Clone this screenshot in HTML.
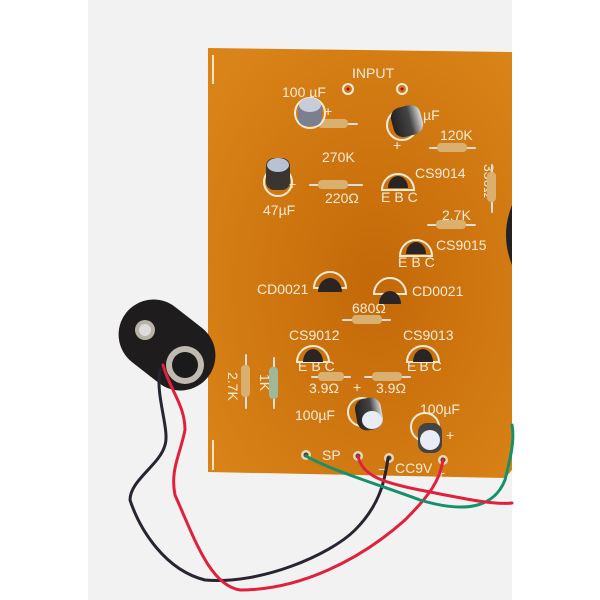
<!DOCTYPE html>
<html><head><meta charset="utf-8"><style>
html,body{margin:0;padding:0;background:#fff;}
svg{display:block}
text{font-family:"Liberation Sans",sans-serif;fill:#f6ecd8;font-size:14px;}
</style></head><body>
<svg width="600" height="600" viewBox="0 0 600 600" xmlns="http://www.w3.org/2000/svg">
<defs>
<radialGradient id="bd" cx="0.55" cy="0.55" r="0.7">
<stop offset="0" stop-color="#c46808"/><stop offset="1" stop-color="#d98418"/>
</radialGradient>
<linearGradient id="cap" x1="0" x2="1"><stop offset="0" stop-color="#222"/><stop offset="0.6" stop-color="#444"/><stop offset="1" stop-color="#ddd"/></linearGradient>
</defs>
<rect x="0" y="0" width="600" height="600" fill="#fff"/>
<rect x="88" y="0" width="424" height="600" fill="#f2f2f2"/>
<polygon points="208,48 512,52 512,470 505,478 208,472" fill="url(#bd)"/>
<line x1="213" y1="55" x2="213" y2="84" stroke="#f3e3c0" stroke-width="2"/>
<line x1="213" y1="440" x2="213" y2="470" stroke="#f3e3c0" stroke-width="2"/>
<path d="M512,205 Q500,235 512,265 Z" fill="#222"/>
<text x="352" y="78">INPUT</text>
<text x="282" y="97">100 µF</text>
<circle cx="348" cy="89" r="5" fill="none" stroke="#f6ecd8" stroke-width="2"/><circle cx="348" cy="89" r="1.5" fill="#a02"/>
<circle cx="402" cy="89" r="5" fill="none" stroke="#f6ecd8" stroke-width="2"/><circle cx="402" cy="89" r="1.5" fill="#a02"/>
<text x="324" y="116" font-size="18">+</text>
<text x="423" y="120">µF</text>
<text x="393" y="150" font-size="18">+</text>
<text x="322" y="162">270K</text>
<text x="440" y="140">120K</text>
<text x="415" y="178">CS9014</text>
<text x="381" y="202" letter-spacing="4">EBC</text>
<text x="325" y="203">220Ω</text>
<text x="288" y="189" font-size="18">+</text>
<text x="263" y="215">47µF</text>
<text x="484" y="164" transform="rotate(90 484 164)">330Ω</text>
<text x="442" y="220">2.7K</text>
<text x="436" y="250">CS9015</text>
<text x="398" y="267" letter-spacing="4">EBC</text>
<text x="257" y="294">CD0021</text>
<text x="412" y="296">CD0021</text>
<text x="352" y="313">680Ω</text>
<text x="289" y="340">CS9012</text>
<text x="403" y="340">CS9013</text>
<text x="298" y="371" letter-spacing="4">EBC</text>
<text x="407" y="371" letter-spacing="3">EBC</text>
<text x="309" y="393">3.9Ω</text>
<text x="376" y="393">3.9Ω</text>
<text x="353" y="392" font-size="18">+</text>
<text x="228" y="372" transform="rotate(90 228 372)">2.7K</text>
<text x="260" y="374" transform="rotate(90 260 374)">1K</text>
<text x="295" y="420">100µF</text>
<text x="420" y="414">100µF</text>
<text x="446" y="440" font-size="16">+</text>
<text x="322" y="460">SP</text>
<text x="395" y="473">CC9V</text>
<text x="378" y="474" font-size="16">−</text>
<text x="437" y="478" font-size="16">+</text>
<circle cx="306" cy="455" r="5" fill="#e8d8b8"/><circle cx="306" cy="455" r="2.5" fill="#444"/>
<circle cx="358" cy="456" r="5" fill="#e8d8b8"/><circle cx="358" cy="456" r="2.5" fill="#444"/>
<circle cx="389" cy="458" r="5" fill="#e8d8b8"/><circle cx="389" cy="458" r="2.5" fill="#444"/>
<circle cx="443" cy="460" r="5" fill="#e8d8b8"/><circle cx="443" cy="460" r="2.5" fill="#444"/>
<g stroke-linecap="round">
<line x1="310" y1="124" x2="357" y2="124" stroke="#ddd" stroke-width="2"/><rect x="318" y="119" width="30" height="9" rx="4" fill="#d9b070"/>
<line x1="430" y1="148" x2="475" y2="148" stroke="#ddd" stroke-width="2"/><rect x="437" y="143" width="30" height="9" rx="4" fill="#d9b070"/>
<line x1="310" y1="185" x2="362" y2="185" stroke="#ddd" stroke-width="2"/><rect x="318" y="180" width="30" height="9" rx="4" fill="#d9b070"/>
<line x1="492" y1="165" x2="492" y2="212" stroke="#ddd" stroke-width="2"/><rect x="487" y="172" width="9" height="30" rx="4" fill="#d9b070"/>
<line x1="428" y1="225" x2="475" y2="225" stroke="#ddd" stroke-width="2"/><rect x="436" y="220" width="30" height="9" rx="4" fill="#d9b070"/>
<line x1="343" y1="320" x2="390" y2="320" stroke="#ddd" stroke-width="2"/><rect x="352" y="315" width="30" height="9" rx="4" fill="#d9b070"/>
<line x1="312" y1="377" x2="350" y2="377" stroke="#ddd" stroke-width="2"/><rect x="318" y="372" width="26" height="9" rx="4" fill="#d9b070"/>
<line x1="365" y1="377" x2="410" y2="377" stroke="#ddd" stroke-width="2"/><rect x="372" y="372" width="30" height="9" rx="4" fill="#d9b070"/>
<line x1="246" y1="355" x2="246" y2="408" stroke="#ddd" stroke-width="2"/><rect x="241" y="365" width="9" height="32" rx="4" fill="#d9b070"/>
<line x1="274" y1="358" x2="274" y2="408" stroke="#ddd" stroke-width="2"/><rect x="269" y="367" width="9" height="32" rx="4" fill="#9fb89a"/>
</g>
<g fill="#2a2522" stroke="#f6ecd8" stroke-width="2">
<path d="M382,190 A16,16 0 0 1 414,190 Z" fill="none"/><path d="M388,188 A10,12 0 0 1 408,188 Z" stroke="none"/>
<path d="M400,256 A16,16 0 0 1 432,256 Z" fill="none"/><path d="M406,254 A10,12 0 0 1 426,254 Z" stroke="none"/>
<path d="M314,288 A16,16 0 0 1 346,288 Z" fill="none"/><path d="M318,292 A12,14 0 0 1 342,292 Z" stroke="none"/>
<path d="M374,294 A16,16 0 0 1 406,294 Z" fill="none"/><path d="M379,304 A11,13 0 0 1 401,304 Z" stroke="none"/>
<path d="M297,362 A16,16 0 0 1 329,362 Z" fill="none"/><path d="M303,362 A10,13 0 0 1 323,362 Z" stroke="none"/>
<path d="M407,362 A16,16 0 0 1 439,362 Z" fill="none"/><path d="M413,362 A10,13 0 0 1 433,362 Z" stroke="none"/>
</g>
<circle cx="310" cy="113" r="15" fill="none" stroke="#f6ecd8" stroke-width="2"/>
<rect x="298" y="100" width="24" height="26" rx="8" fill="#7a8090"/><ellipse cx="310" cy="105" rx="11" ry="7" fill="#c8ccd6"/>
<circle cx="402" cy="125" r="15" fill="none" stroke="#f6ecd8" stroke-width="2"/>
<rect x="392" y="106" width="30" height="30" rx="10" fill="url(#cap)" transform="rotate(-15 407 121)"/>
<circle cx="278" cy="182" r="14" fill="none" stroke="#f6ecd8" stroke-width="2"/>
<rect x="266" y="158" width="24" height="32" rx="8" fill="#3a3530"/><ellipse cx="278" cy="165" rx="11" ry="7" fill="#b8c2d2"/>
<circle cx="362" cy="412" r="14" fill="none" stroke="#f6ecd8" stroke-width="2"/>
<rect x="356" y="398" width="26" height="32" rx="10" fill="url(#cap)" transform="rotate(-10 369 414)"/><ellipse cx="372" cy="420" rx="10" ry="9" fill="#e8ecf4"/>
<circle cx="425" cy="427" r="14" fill="none" stroke="#f6ecd8" stroke-width="2"/>
<rect x="418" y="423" width="24" height="30" rx="9" fill="#444"/><ellipse cx="430" cy="440" rx="10" ry="10" fill="#e8ecf4"/>
<g transform="rotate(38 167 345)">
<rect x="115" y="310" width="104" height="70" rx="35" fill="#1e1c1c"/>
</g>
<circle cx="145" cy="330" r="10" fill="#b8b2a8"/><circle cx="145" cy="330" r="6" fill="#ddd"/>
<circle cx="185" cy="365" r="19" fill="#c0bab0"/><circle cx="185" cy="365" r="13" fill="#1a1a1a"/>
<g fill="none" stroke-width="3" stroke-linecap="round">
<path d="M160,370 C155,395 170,430 165,445 C160,465 130,480 130,500 C140,530 165,570 205,580 C260,585 330,555 355,530 C380,505 385,480 388,458" stroke="#2a2430"/>
<path d="M163,365 C170,390 185,405 185,430 C180,455 170,470 175,495 C195,540 210,585 240,590 C300,590 360,560 405,520 C430,495 440,480 443,460" stroke="#e0203c"/>
<path d="M306,456 C330,470 380,485 420,500 C470,515 495,505 505,480 C510,460 515,440 512,425" stroke="#14906a"/>
<path d="M358,456 C362,475 380,482 420,490 C470,500 495,505 512,503" stroke="#e0203c"/>
</g>
</svg>
</body></html>
